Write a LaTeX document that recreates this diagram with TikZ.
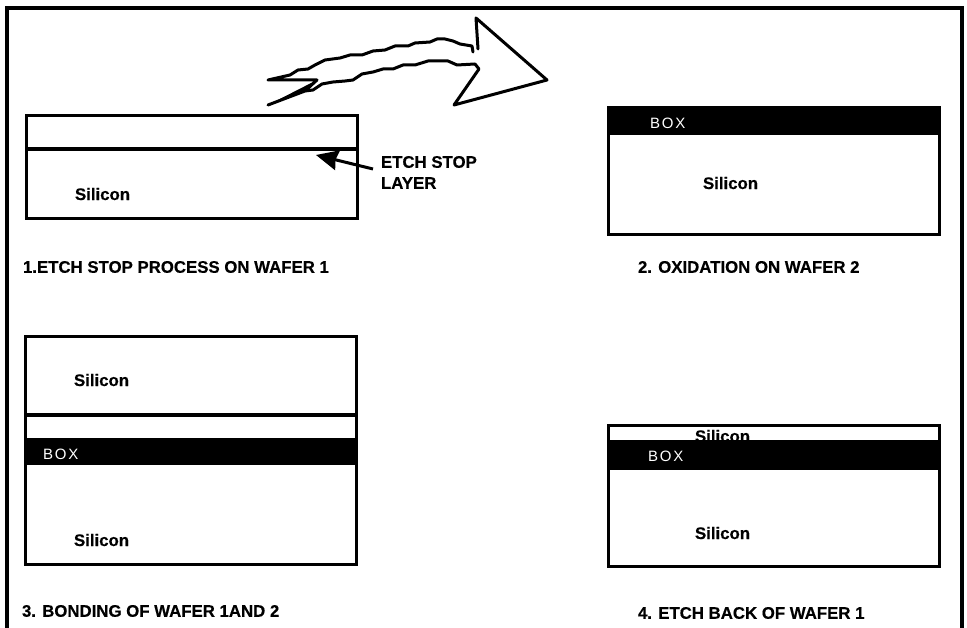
\documentclass[tikz,border=0pt]{standalone}
\usepackage{fontspec}
\setmainfont{Liberation Sans}[BoldFeatures={FakeBold=0.4}]
\usetikzlibrary{arrows.meta}
\begin{document}
\begin{tikzpicture}[x=1pt, y=-1pt,
  every node/.style={inner sep=0pt, outer sep=0pt},
  wafer/.style={draw, line width=3pt, anchor=north west, minimum width=331pt},
  oxide/.style={fill=black, anchor=north west, minimum width=332pt},
  etchline/.style={line width=4.5pt},
  txt/.style={font=\fontsize{16.8}{20}\selectfont\bfseries, anchor=west},
  boxtxt/.style={font=\fontsize{15}{18}\selectfont\addfontfeature{LetterSpace=12}, text=white, anchor=west}]
  \useasboundingbox (0,0) rectangle (967,628);

  % outer frame, open at the bottom
  \draw[line width=3.5pt] (7,628) -- (7,8) -- (962,8) -- (962,628);

  % wafer 1
  \node[wafer, minimum height=103pt] (wafera) at (26,116) {};
  \draw[etchline] (wafera.west |- 0,149) coordinate (etchl) -- (wafera.east |- 0,149) coordinate (etchr);
  \node[txt] (sia) at (75,194) {Silicon};
  \node[txt] (etchlabel) at (381,162) {ETCH STOP};
  \node[txt] (layerlabel) at (381,183) {LAYER};
  \coordinate (etchtip) at (316,155);
  \coordinate (etchtail) at (373,169);
  \draw[-{Stealth[length=22pt, width=20pt, inset=2pt]}, line width=3pt] (etchtail) -- (etchtip);
  \node[txt] (capa) at (23,267) {1.ETCH STOP PROCESS ON WAFER 1};

  % wafer 2
  \node[oxide, minimum height=27pt] (oxb) at (608,108) {};
  \node[wafer, minimum height=127pt] (waferb) at (608,108) {};
  \node[boxtxt] (boxb) at (650,123) {BOX};
  \node[txt] (sib) at (703,183) {Silicon};
  \node[txt] (capb) at (638,267) {2. OXIDATION ON WAFER 2};

  % bonded pair
  \node[oxide, minimum height=27pt] (oxc) at (25,438) {};
  \node[wafer, minimum height=227pt] (waferc) at (25,337) {};
  \draw[etchline] (waferc.west |- 0,415) coordinate (bondl) -- (waferc.east |- 0,415) coordinate (bondr);
  \node[txt] (sic) at (74,380) {Silicon};
  \node[boxtxt] (boxc) at (43,454) {BOX};
  \node[txt] (sid) at (74,540) {Silicon};
  \node[txt] (capc) at (22,611) {3. BONDING OF WAFER 1AND 2};

  % after etch back, the upper label is cut off by the oxide
  \node[txt] (sie) at (695,436) {Silicon};
  \node[oxide, minimum height=30pt] (oxd) at (608,440) {};
  \node[wafer, minimum height=141pt] (waferd) at (608,425) {};
  \node[boxtxt] (boxd) at (648,456) {BOX};
  \node[txt] (sif) at (695,533) {Silicon};
  \node[txt] (capd) at (638,613) {4. ETCH BACK OF WAFER 1};

  % big wobbly arrow
  \draw[line width=3pt, line join=round, line cap=round]
    (473,52) -- (472,46) -- (460,44) -- (453,41) -- (445,39) -- (437,39) -- (430,42) -- (415,43)
    -- (408,46) -- (395,46) -- (385,50) -- (373,51) -- (362,55) -- (350,55) -- (340,58)
    -- (325,60) -- (315,65) -- (308,69) -- (298,70) -- (290,75) -- (268,80) -- (317,80)
    -- (305,91) -- (268,105)
    -- (305,91) -- (313,90) -- (322,84) -- (333,82) -- (345,81) -- (353,80) -- (362,74)
    -- (373,72) -- (383,69) -- (393,69) -- (403,65) -- (415,65) -- (428,61) -- (440,61)
    -- (448,61) -- (457,65) -- (475,64) -- (479,69) -- (454,105) -- (547,80) -- (476,18) -- (478,49);
  \fill (317,80) -- (268,105) -- (305,91) -- cycle;
\end{tikzpicture}
\end{document}
